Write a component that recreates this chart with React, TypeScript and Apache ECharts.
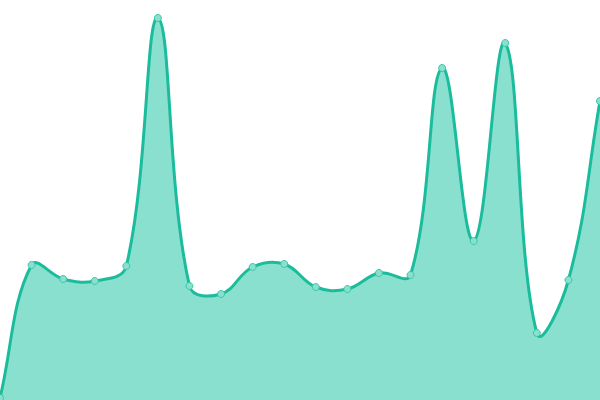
import React, { useEffect, useRef } from 'react';
import * as echarts from 'echarts';

// x categories (20 evenly spaced points)
const categories = [
  '1', '2', '3', '4', '5', '6', '7', '8', '9', '10',
  '11', '12', '13', '14', '15', '16', '17', '18', '19', '20',
];

// values (0..400 scale)
const values = [
  2, 135, 121, 119, 134, 382, 114, 106, 133, 136,
  113, 111, 127, 125, 332, 159, 357, 67, 120, 299,
];

const LINE_COLOR = '#1abc9c';
const AREA_COLOR = '#8ae0cf';
const TENSION = 0.4;

// spline through pixel points, control points like a tension-based cardinal curve
const buildSpline = (ctx: any, pts: number[][], t: number, top: number, bottom: number) => {
  const n = pts.length;
  const cps: number[][][] = [];
  for (let i = 0; i < n; i++) {
    const cur = pts[i];
    const prev = i === 0 ? cur : pts[i - 1];
    const next = i === n - 1 ? cur : pts[i + 1];
    const d01 = Math.hypot(cur[0] - prev[0], cur[1] - prev[1]);
    const d12 = Math.hypot(next[0] - cur[0], next[1] - cur[1]);
    const sum = d01 + d12 || 1;
    const fa = (t * d01) / sum;
    const fb = (t * d12) / sum;
    const clampY = (y: number) => Math.min(bottom, Math.max(top, y));
    cps.push([
      [cur[0] - fa * (next[0] - prev[0]), clampY(cur[1] - fa * (next[1] - prev[1]))],
      [cur[0] + fb * (next[0] - prev[0]), clampY(cur[1] + fb * (next[1] - prev[1]))],
    ]);
  }
  ctx.moveTo(pts[0][0], pts[0][1]);
  for (let i = 1; i < n; i++) {
    const a = cps[i - 1][1];
    const b = cps[i][0];
    ctx.bezierCurveTo(a[0], a[1], b[0], b[1], pts[i][0], pts[i][1]);
  }
};

echarts.graphic.registerShape(
  'splineCurve',
  echarts.graphic.extendShape({
    shape: { points: [] as number[][], base: 0, top: 0, closed: false },
    buildPath(ctx: any, shape: any) {
      const pts = shape.points;
      if (!pts || pts.length < 2) return;
      buildSpline(ctx, pts, TENSION, shape.top, shape.base);
      if (shape.closed) {
        ctx.lineTo(pts[pts.length - 1][0], shape.base);
        ctx.lineTo(pts[0][0], shape.base);
        ctx.closePath();
      }
    },
  })
);

const App: React.FC = () => {
  const chartRef = useRef<HTMLDivElement>(null);

  useEffect(() => {
    if (!chartRef.current) return;
    const chart = echarts.init(chartRef.current, undefined, { renderer: 'svg' });

    const renderCurve = (params: any, api: any) => {
      if (params.dataIndex !== 0) return null;
      const pts = values.map((v, i) => api.coord([i, v]));
      const base = api.coord([0, 0])[1];
      const top = api.coord([0, 400])[1];
      return {
        type: 'group',
        children: [
          {
            type: 'splineCurve',
            shape: { points: pts, base, top, closed: true },
            style: { fill: AREA_COLOR, stroke: 'none' },
            silent: true,
          },
          {
            type: 'splineCurve',
            shape: { points: pts, base, top, closed: false },
            style: { fill: 'none', stroke: LINE_COLOR, lineWidth: 3 },
            silent: true,
          },
        ],
      };
    };

    chart.setOption({
      animation: false,
      backgroundColor: '#ffffff',
      grid: { left: 0, right: 0, top: 0, bottom: 0 },
      xAxis: {
        type: 'category',
        data: categories,
        boundaryGap: false,
        show: false,
      },
      yAxis: {
        type: 'value',
        min: 0,
        max: 400,
        show: false,
      },
      series: [
        {
          type: 'custom',
          data: values.map((v, i) => [i, v]),
          renderItem: renderCurve,
          silent: true,
          clip: false,
          z: 2,
        },
        {
          type: 'line',
          data: values,
          symbol: 'circle',
          symbolSize: 7,
          lineStyle: { opacity: 0 },
          itemStyle: {
            color: AREA_COLOR,
            borderColor: '#3cc6a8',
            borderWidth: 1,
          },
          z: 3,
        },
      ],
    });

    return () => {
      chart.dispose();
    };
  }, []);

  return (
    <div
      ref={chartRef}
      style={{ position: 'fixed', left: 0, top: 0, width: '600px', height: '400px' }}
    />
  );
};

export default App;
